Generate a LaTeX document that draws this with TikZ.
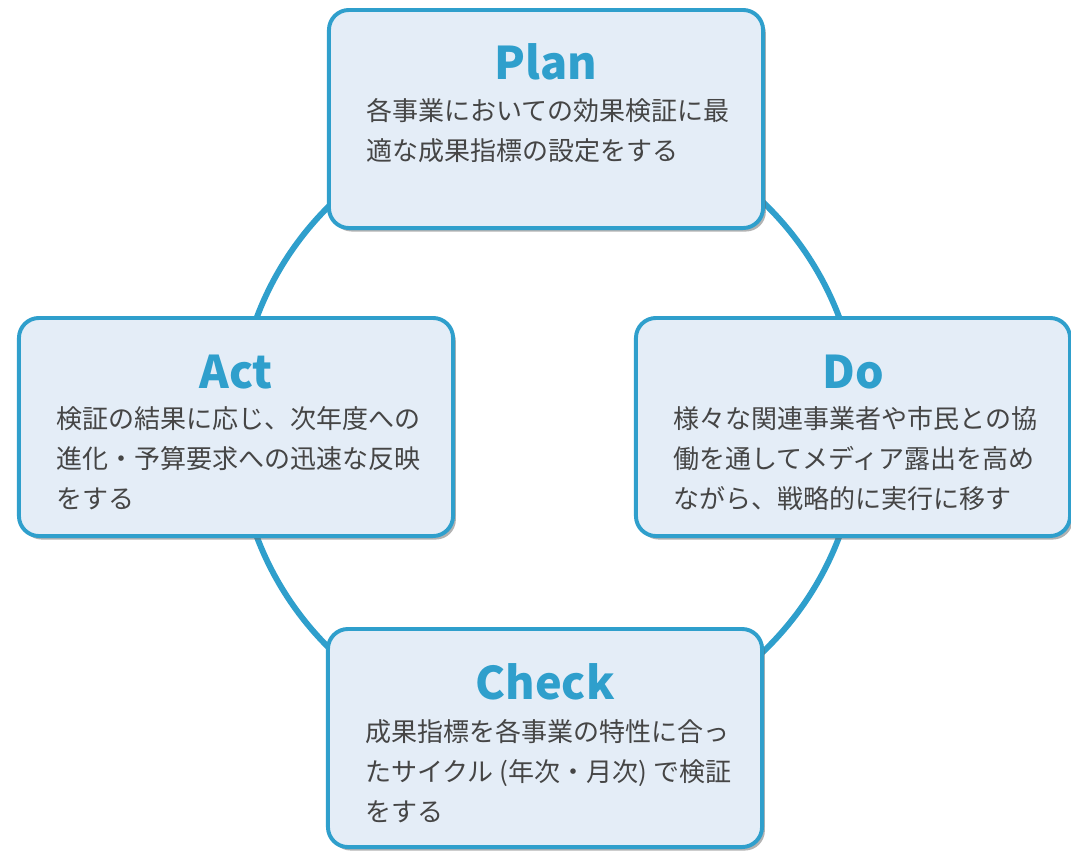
\documentclass[tikz,border=0pt]{standalone}
\usepackage{fontspec}
\setmainfont{Noto Sans CJK JP}
\usetikzlibrary{positioning,shadows}

\definecolor{cycleblue}{HTML}{2F9FCC}
\definecolor{cardfill}{HTML}{E4EDF7}
\definecolor{bodygray}{HTML}{454545}

\tikzstyle{card} = [
        rectangle,
        rounded corners=0.5cm,
        minimum width=10.85cm,
        minimum height=5.45cm,
        outer sep=0pt,
        draw=cycleblue,
        line width=2.8pt,
        fill=cardfill,
        drop shadow={shadow xshift=2pt, shadow yshift=-2.5pt, opacity=0.5, fill=black!60}
    ]
\tikzstyle{title} = [
        font=\fontsize{32pt}{32pt}\selectfont\bfseries,
        text=cycleblue,
        inner sep=0pt,
        anchor=base
    ]
\tikzstyle{body} = [
        font=\fontsize{18.5pt}{28.5pt}\selectfont,
        text=bodygray,
        align=left,
        inner sep=0pt,
        anchor=north west
    ]

\begin{document}
\begin{tikzpicture}[x=0.025cm, y=-0.025cm]
        \useasboundingbox (0,0) rectangle (1071,850);

        \node (cycle) [%
            circle,%
            draw=cycleblue,%
            line width=4.2pt,%
            minimum size=15.55cm%
            ] at (548,427) {};

        % the four steps
        \node (plan) [card] at (546,119) {};
        \node (act) [card] at (236,427) {};
        \node (do) [card] at (853,427) {};
        \node (check) [card] at (545,738) {};

        \node (plantitle) [title] at ([shift={(0,70)}]plan.north) {Plan};
        \node (plantext) [body] at ([shift={(37,88)}]plan.north west)
            {各事業においての効果検証に最\\適な成果指標の設定をする};

        \node (acttitle) [title] at ([shift={(0,71)}]act.north) {Act};
        \node (acttext) [body] at ([shift={(37,88)}]act.north west)
            {検証の結果に応じ、次年度への\\進化・予算要求への迅速な反映\\をする};

        \node (dotitle) [title] at ([shift={(0,71)}]do.north) {Do};
        \node (dotext) [body] at ([shift={(37,88)}]do.north west)
            {様々な関連事業者や市民との協\\働を通してメディア露出を高め\\ながら、戦略的に実行に移す};

        \node (checktitle) [title] at ([shift={(0,71)}]check.north) {Check};
        \node (checktext) [body] at ([shift={(37,90)}]check.north west)
            {成果指標を各事業の特性に合っ\\たサイクル (年次・月次) で検証\\をする};

    \end{tikzpicture}
\end{document}
